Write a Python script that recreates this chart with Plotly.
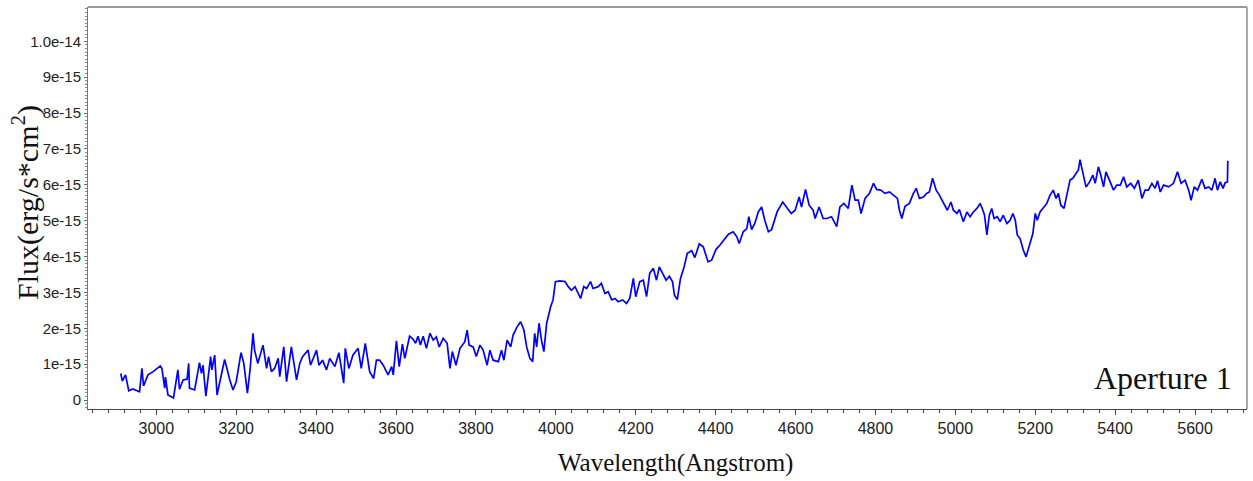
import plotly.graph_objects as go

# Spectrum of aperture 1: wavelength in Angstrom, flux in units of 1e-15 erg/s/cm^2
wavelength = [
    2911, 2915, 2923, 2931, 2941, 2958, 2964, 2968, 2979, 2992,
    3010, 3014, 3021, 3023, 3029, 3043, 3054, 3058, 3067, 3077,
    3081, 3083, 3096, 3108, 3113, 3117, 3124, 3136, 3139, 3146,
    3152, 3171, 3184, 3192, 3200, 3212, 3219, 3228, 3235, 3242,
    3246, 3254, 3267, 3276, 3281, 3288, 3296, 3305, 3309, 3319,
    3326, 3338, 3351, 3359, 3366, 3380, 3386, 3401, 3407, 3416,
    3426, 3434, 3447, 3457, 3469, 3473, 3482, 3492, 3505, 3513,
    3523, 3530, 3534, 3544, 3551,
    3559, 3568, 3580, 3589, 3593, 3601, 3608, 3616, 3622, 3634,
    3643, 3649, 3655, 3661, 3668, 3676, 3685, 3693, 3701, 3708,
    3718, 3728, 3735, 3741, 3750, 3760, 3772, 3778, 3783, 3793,
    3801, 3810, 3818, 3828, 3835, 3843, 3856, 3864, 3870, 3878,
    3887, 3893, 3903, 3912, 3920, 3927, 3935, 3942, 3947, 3952,
    3958, 3964, 3970, 3977, 3981, 3987, 3993, 3999, 4010, 4023,
    4031, 4039, 4048, 4056, 4062, 4070, 4077, 4087, 4093, 4106,
    4114, 4123, 4131, 4140, 4148, 4156, 4167, 4177, 4185, 4194,
    4200, 4210, 4219, 4227, 4235, 4244, 4252, 4259,
    4269, 4276, 4284, 4292, 4297, 4304, 4312, 4321, 4329, 4340,
    4348, 4359, 4369, 4381, 4390, 4401, 4411, 4421, 4432, 4444,
    4453, 4459, 4469, 4478, 4483, 4490, 4498, 4507, 4515, 4523,
    4532, 4540, 4549, 4554, 4568, 4578, 4589, 4599, 4609, 4615,
    4625, 4634, 4644, 4649, 4659, 4669, 4678, 4690, 4703, 4711,
    4721, 4732, 4741, 4749, 4757, 4764, 4774, 4785, 4795, 4803,
    4813, 4824, 4835, 4845, 4855, 4860, 4866, 4874, 4885, 4895,
    4902, 4910, 4920, 4928, 4935, 4943, 4952, 4960,
    4974, 4980, 4989, 4995, 5004, 5010, 5020, 5029, 5037, 5045,
    5054, 5062, 5069, 5073, 5079, 5085, 5091, 5097, 5105, 5112,
    5120, 5129, 5137, 5144, 5150, 5155, 5162, 5170, 5177, 5185,
    5194, 5200, 5205, 5212, 5220, 5229, 5237, 5245, 5252, 5258,
    5264, 5272, 5279, 5287, 5294, 5302, 5308, 5312, 5319, 5327,
    5336, 5344, 5350, 5358, 5364, 5371, 5377, 5386, 5396, 5404,
    5413, 5421, 5429, 5439, 5448, 5458, 5467, 5475, 5483, 5492,
    5500, 5506, 5513, 5521, 5534, 5546, 5556, 5565, 5575, 5584,
    5590, 5598, 5606, 5617, 5625, 5634, 5642, 5650, 5656, 5663,
    5670, 5675, 5681, 5682,
]

flux = [
    0.74, 0.53, 0.70, 0.26, 0.31, 0.23, 0.88, 0.39, 0.70, 0.79,
    0.95, 0.88, 0.33, 0.64, 0.14, 0.06, 0.84, 0.30, 0.56, 0.58,
    1.02, 0.33, 0.28, 1.04, 0.74, 0.97, 0.11, 1.21, 0.84, 1.25,
    0.14, 1.13, 0.56, 0.28, 0.51, 1.32, 1.02, 0.19, 0.88, 1.86,
    1.39, 1.02, 1.53, 0.88, 1.21, 0.79, 0.88, 1.16, 0.65, 1.48,
    0.51, 1.48, 0.56, 1.02, 1.21, 1.39, 0.97, 1.39, 0.97, 1.11,
    0.84, 1.16, 0.93, 1.32, 0.47, 1.44, 0.88, 1.25, 1.44, 0.88,
    1.58, 1.07, 0.79, 0.60, 1.11,
    1.11, 0.97, 0.70, 0.93, 0.70, 1.65, 0.93, 1.56, 1.16, 1.78,
    1.69, 1.58, 1.78, 1.53, 1.78, 1.44, 1.86, 1.67, 1.76, 1.48,
    1.72, 1.58, 0.88, 1.35, 0.97, 1.44, 1.62, 1.95, 1.53, 1.48,
    1.21, 1.53, 1.39, 0.97, 1.39, 1.11, 1.07, 1.39, 1.11, 1.67,
    1.48, 1.81, 2.04, 2.18, 1.95, 1.48, 1.16, 1.07, 1.86, 1.48,
    2.14, 1.67, 1.35, 2.14, 2.32, 2.60, 2.79, 3.30, 3.32, 3.30,
    3.16, 3.06, 3.16, 2.97, 2.83, 3.16, 3.11, 3.30, 3.11, 3.16,
    3.25, 2.97, 3.02, 2.79, 2.83, 2.74, 2.79, 2.69, 2.83, 3.39,
    2.88, 3.30, 3.34, 2.88, 3.53, 3.67, 3.34, 3.71,
    3.48, 3.34, 3.45, 3.30, 2.92, 2.80, 3.39, 3.71, 4.09, 4.16,
    3.97, 4.35, 4.27, 3.85, 3.90, 4.20, 4.32, 4.48, 4.62, 4.69,
    4.55, 4.36, 4.69, 4.78, 5.11, 4.75, 4.92, 5.25, 5.38, 5.01,
    4.69, 4.75, 5.06, 5.25, 5.52, 5.38, 5.20, 5.29, 5.66, 5.38,
    5.87, 5.43, 5.29, 5.06, 5.38, 5.06, 5.06, 5.11, 4.83, 5.38,
    5.48, 5.34, 5.99, 5.57, 5.57, 5.20, 5.62, 5.76, 6.04, 5.87,
    5.85, 5.76, 5.80, 5.71, 5.62, 5.29, 5.06, 5.40, 5.48, 5.76,
    5.90, 5.62, 5.66, 5.76, 5.80, 6.18, 5.85, 5.71,
    5.43, 5.29, 5.52, 5.29, 5.20, 5.31, 4.97, 5.24, 5.11, 5.24,
    5.34, 5.48, 5.29, 5.15, 4.60, 5.15, 5.34, 5.06, 5.11, 4.97,
    5.15, 4.92, 5.01, 5.20, 5.01, 4.60, 4.50, 4.18, 3.99, 4.27,
    4.64, 5.20, 5.01, 5.24, 5.34, 5.48, 5.71, 5.85, 5.62, 5.76,
    5.43, 5.34, 5.71, 6.13, 6.18, 6.31, 6.41, 6.70, 6.31, 5.94,
    6.08, 6.27, 6.04, 6.50, 6.27, 5.94, 6.36, 6.13, 5.85, 5.99,
    5.99, 6.22, 5.94, 6.04, 5.90, 6.13, 5.62, 5.85, 5.85, 6.04,
    5.90, 6.11, 5.80, 5.99, 5.94, 6.04, 6.36, 6.04, 6.13, 5.85,
    5.57, 5.94, 5.85, 6.15, 5.90, 5.94, 5.85, 6.18, 5.85, 6.08,
    5.90, 6.05, 6.08, 6.67,
]

FLUX_UNIT = 1e-15

x_ticks = [3000, 3200, 3400, 3600, 3800, 4000, 4200, 4400, 4600, 4800, 5000, 5200, 5400, 5600]
y_tick_units = [0, 1, 2, 3, 4, 5, 6, 7, 8, 9, 10]
y_tick_text = ["0", "1e-15", "2e-15", "3e-15", "4e-15", "5e-15", "6e-15",
               "7e-15", "8e-15", "9e-15", "1.0e-14"]

x_tick_font = dict(family="Liberation Sans, Arial, sans-serif", size=16, color="#222222")
y_tick_font = dict(family="Liberation Sans, Arial, sans-serif", size=15, color="#222222")
serif = "Liberation Serif, Times New Roman, serif"

fig = go.Figure()
fig.add_trace(go.Scatter(
    x=wavelength,
    y=[v * FLUX_UNIT for v in flux],
    mode="lines",
    line=dict(color="#0000ff", width=1.7),
    showlegend=False,
))

fig.update_layout(
    width=1253,
    height=481,
    margin=dict(l=88, r=6, t=7, b=72),
    paper_bgcolor="white",
    plot_bgcolor="white",
    xaxis=dict(
        range=[2829, 5730],
        tickmode="array",
        tickvals=x_ticks,
        ticktext=[str(t) for t in x_ticks],
        ticks="outside",
        ticklen=5,
        tickcolor="#444444",
        showline=True,
        linecolor="#444444",
        linewidth=1,
        showgrid=False,
        zeroline=False,
        tickfont=x_tick_font,
        minor=dict(ticks="outside", tickmode="linear", tick0=3000, dtick=40,
                   ticklen=3, tickcolor="#444444", showgrid=False),
    ),
    yaxis=dict(
        range=[-0.2507 * FLUX_UNIT, 10.955 * FLUX_UNIT],
        tickmode="array",
        tickvals=[v * FLUX_UNIT for v in y_tick_units],
        ticktext=y_tick_text,
        ticks="outside",
        ticklen=3,
        tickcolor="#666666",
        showline=True,
        linecolor="#777777",
        linewidth=1,
        showgrid=False,
        zeroline=False,
        tickfont=y_tick_font,
        minor=dict(ticks="outside", tickmode="linear", tick0=0, dtick=0.1 * FLUX_UNIT,
                   ticklen=2, tickcolor="#888888", showgrid=False),
    ),
    shapes=[
        dict(type="line", xref="paper", yref="paper", x0=0, x1=1, y0=1, y1=1,
             line=dict(color="#999999", width=2)),
        dict(type="line", xref="paper", yref="paper", x0=1, x1=1, y0=0, y1=1,
             line=dict(color="#aaaaaa", width=2)),
    ],
    annotations=[
        dict(text="Wavelength(Angstrom)", xref="paper", yref="paper",
             x=0.5073, y=-0.134, xanchor="center", yanchor="middle", showarrow=False,
             font=dict(family=serif, size=25, color="#111111")),
        dict(text="Flux(erg/s*cm<sup>2</sup>)", xref="paper", yref="paper",
             x=-0.0535, y=0.515, xanchor="center", yanchor="middle", showarrow=False,
             textangle=-90, font=dict(family=serif, size=30, color="#111111")),
        dict(text="Aperture 1", xref="paper", yref="paper",
             x=0.9888, y=0.0771, xanchor="right", yanchor="middle", showarrow=False,
             font=dict(family=serif, size=32, color="#111111")),
    ],
)

fig.write_html("out.html")
